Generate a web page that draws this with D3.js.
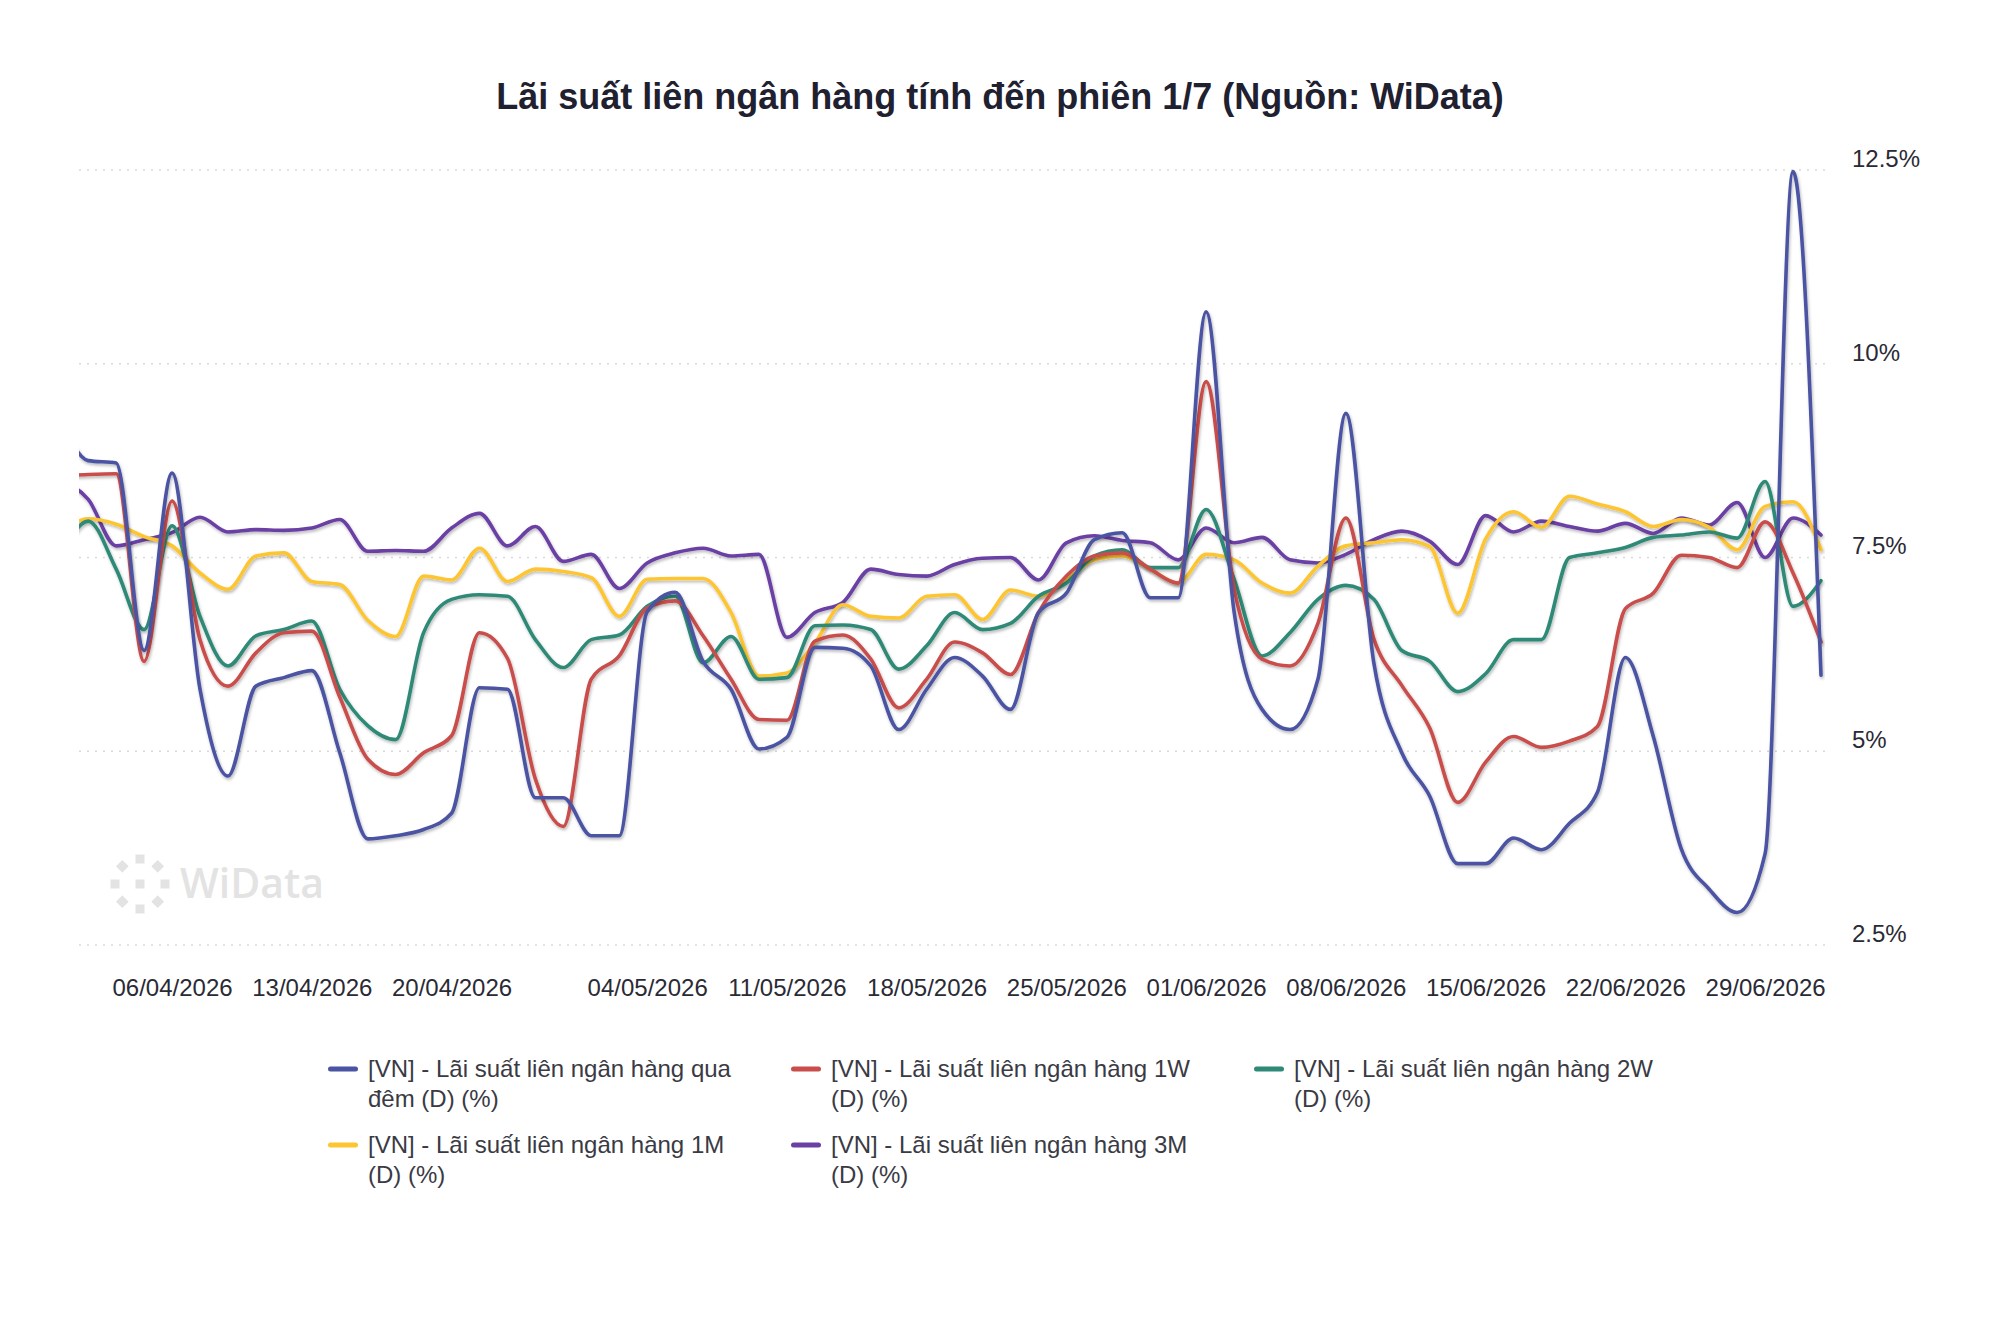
<!DOCTYPE html>
<html><head><meta charset="utf-8">
<script src="https://cdn.jsdelivr.net/npm/d3@7"></script>
<style>
html,body{margin:0;padding:0;background:#fff;}
svg{display:block;font-family:"Liberation Sans",Arial,Helvetica,sans-serif;}
</style></head><body>
<svg id="chart" width="2000" height="1322"></svg>
<script>
// ---------- DATA ----------
const dates = ["31/03/2026","01/04/2026","02/04/2026","03/04/2026","06/04/2026","07/04/2026","08/04/2026","09/04/2026","10/04/2026",
"13/04/2026","14/04/2026","15/04/2026","16/04/2026","17/04/2026","20/04/2026","21/04/2026","22/04/2026","23/04/2026","24/04/2026",
"28/04/2026","29/04/2026","04/05/2026","05/05/2026","06/05/2026","07/05/2026","08/05/2026","11/05/2026","12/05/2026","13/05/2026",
"14/05/2026","15/05/2026","18/05/2026","19/05/2026","20/05/2026","21/05/2026","22/05/2026","25/05/2026","26/05/2026","27/05/2026",
"28/05/2026","29/05/2026","01/06/2026","02/06/2026","03/06/2026","04/06/2026","05/06/2026","08/06/2026","09/06/2026","10/06/2026",
"11/06/2026","12/06/2026","15/06/2026","16/06/2026","17/06/2026","18/06/2026","19/06/2026","22/06/2026","23/06/2026","24/06/2026",
"25/06/2026","26/06/2026","29/06/2026","30/06/2026","01/07/2026"];

const tickLabels = ["06/04/2026","13/04/2026","20/04/2026","04/05/2026","11/05/2026","18/05/2026","25/05/2026",
"01/06/2026","08/06/2026","15/06/2026","22/06/2026","29/06/2026"];

const overnight = [9.3,8.75,8.72,6.3,8.59,5.8,4.68,5.84,5.95,6.04,4.98,3.87,3.91,3.99,4.2,5.82,5.80,4.40,4.40,3.91,3.91,6.8,7.05,6.16,5.80,5.03,5.18,6.34,6.33,6.10,5.28,5.80,6.21,5.97,5.54,6.79,7.04,7.73,7.82,6.98,6.98,10.67,6.8,5.54,5.28,5.93,9.36,6.14,4.98,4.42,3.55,3.55,3.88,3.73,4.07,4.47,6.21,5.19,3.74,3.22,2.92,3.68,12.48,5.98];
const week1 = [8.55,8.57,8.58,6.16,8.23,6.44,5.84,6.27,6.53,6.55,5.7,4.90,4.70,4.98,5.2,6.53,6.2,4.64,4.03,5.93,6.23,6.85,6.94,6.49,5.93,5.41,5.40,6.42,6.50,6.19,5.56,5.93,6.41,6.27,5.99,6.79,7.26,7.52,7.56,7.35,7.17,9.77,7.1,6.19,6.10,6.65,8.01,6.45,5.85,5.3,4.34,4.86,5.19,5.05,5.13,5.32,6.84,7.04,7.53,7.50,7.37,7.96,7.30,6.41];
const week2 = [7.5,7.97,7.35,6.57,7.91,6.74,6.10,6.49,6.57,6.68,5.80,5.33,5.15,6.53,6.96,7.02,7.0,6.44,6.08,6.44,6.50,6.87,7.0,6.14,6.48,5.93,5.95,6.62,6.63,6.57,6.06,6.36,6.79,6.57,6.65,7.0,7.17,7.52,7.60,7.37,7.37,8.12,7.22,6.23,6.53,6.96,7.14,6.96,6.3,6.16,5.77,6.0,6.44,6.44,7.50,7.56,7.63,7.76,7.79,7.83,7.75,8.48,6.87,7.20];
const month1 = [7.8,8.0,7.93,7.77,7.65,7.30,7.09,7.52,7.56,7.19,7.15,6.69,6.48,7.26,7.21,7.62,7.19,7.35,7.32,7.24,6.74,7.22,7.23,7.23,6.79,5.97,6.01,6.40,6.89,6.74,6.72,7.0,7.02,6.70,7.08,7.0,7.21,7.47,7.52,7.35,7.17,7.54,7.47,7.17,7.04,7.39,7.65,7.69,7.73,7.64,6.78,7.74,8.09,7.89,8.29,8.19,8.09,7.90,7.99,7.89,7.60,8.16,8.22,7.60];
const month3 = [8.5,8.25,7.65,7.73,7.82,8.02,7.83,7.86,7.85,7.88,7.99,7.58,7.59,7.58,7.88,8.07,7.65,7.90,7.45,7.54,7.10,7.43,7.56,7.62,7.52,7.54,6.47,6.79,6.92,7.35,7.28,7.26,7.41,7.49,7.50,7.21,7.69,7.78,7.72,7.69,7.47,7.88,7.69,7.76,7.47,7.43,7.54,7.73,7.84,7.71,7.41,8.04,7.83,7.97,7.90,7.84,7.94,7.81,8.01,7.92,8.21,7.50,8.01,7.79];

const seriesNames = [
  "[VN] - Lãi suất liên ngân hàng qua đêm (D) (%)",
  "[VN] - Lãi suất liên ngân hàng 1W (D) (%)",
  "[VN] - Lãi suất liên ngân hàng 2W (D) (%)",
  "[VN] - Lãi suất liên ngân hàng 1M (D) (%)",
  "[VN] - Lãi suất liên ngân hàng 3M (D) (%)"
];
const seriesColors = ["#4b53a3","#c94d4b","#2e8a77","#fdc531","#6a40a4"];
const yTicks = [2.5, 5, 7.5, 10, 12.5];
const titleText = "Lãi suất liên ngân hàng tính đến phiên 1/7 (Nguồn: WiData)";
const viewStart = 0.67; // visible window starts part-way between first two sessions

// ---------- CHART ----------
const svg = d3.select("#chart");
const plot = {left:79, right:1821, top:170, bottom:945};

const x = d3.scaleLinear().domain([viewStart, dates.length-1]).range([plot.left, plot.right]);
const y = d3.scaleLinear().domain([2.5, 12.5]).range([plot.bottom, plot.top]);

const defs = svg.append("defs");
const f = defs.append("filter").attr("id","shadow").attr("x","-5%").attr("y","-10%").attr("width","110%").attr("height","120%");
f.append("feDropShadow").attr("dx",1).attr("dy",2).attr("stdDeviation",1.8).attr("flood-color","#000").attr("flood-opacity",0.28);
defs.append("clipPath").attr("id","clip").append("rect")
  .attr("x",plot.left).attr("y",0).attr("width",plot.right-plot.left+4).attr("height",1000);

// title
svg.append("text").attr("x",1000).attr("y",96).attr("dy","0.35em")
  .attr("text-anchor","middle").attr("font-size",36).attr("font-weight","bold")
  .attr("fill","#1f2030").text(titleText);

// grid
svg.append("g").selectAll("line").data(yTicks).join("line")
  .attr("x1",plot.left).attr("x2",plot.right+4)
  .attr("y1",d=>y(d)).attr("y2",d=>y(d))
  .attr("stroke","#d9d9d9").attr("stroke-width",1.5).attr("stroke-dasharray","2,6");

// y axis (right)
const yAxis = svg.append("g").attr("transform",`translate(1852,0)`)
  .call(d3.axisRight(y).tickValues(yTicks).tickSize(0).tickPadding(0).tickFormat(d=>d+"%"));
yAxis.select(".domain").remove();
yAxis.selectAll(".tick text").attr("x",0).attr("y",-12).attr("dy","0.35em")
  .attr("font-size",24).attr("fill","#2a2a35").attr("font-family","Liberation Sans, Arial, sans-serif");

// x axis
const tickIdx = tickLabels.map(t=>dates.indexOf(t));
const xAxis = svg.append("g").attr("transform",`translate(0,988)`)
  .call(d3.axisBottom(x).tickValues(tickIdx).tickSize(0).tickPadding(0).tickFormat(i=>dates[i]));
xAxis.select(".domain").remove();
xAxis.selectAll(".tick text").attr("y",0).attr("dy","0.35em")
  .attr("font-size",24).attr("fill","#2a2a35").attr("font-family","Liberation Sans, Arial, sans-serif");

// watermark
const wm = svg.append("g").attr("transform","translate(140,884)").attr("fill","#e3e3e3");
d3.range(8).forEach(k=>{
  const a = k*Math.PI/4, r=25;
  const cx = r*Math.sin(a), cy = -r*Math.cos(a);
  wm.append("rect").attr("x",-4.5).attr("y",-4.5).attr("width",9).attr("height",9)
    .attr("transform",`translate(${cx},${cy}) rotate(${k%2?45:0})`);
});
wm.append("rect").attr("x",-4.5).attr("y",-4.5).attr("width",9).attr("height",9);
svg.append("text").attr("x",180).attr("y",898).attr("font-family","'Open Sans', sans-serif")
  .attr("font-weight",600).attr("font-size",41).attr("fill","#e3e3e3").text("WiData");

// lines
const series = [overnight, week1, week2, month1, month3];
const line = d3.line().x((d,i)=>x(i)).y(d=>y(d)).curve(d3.curveMonotoneX);
const lg = svg.append("g").attr("clip-path","url(#clip)");
[4,3,2,1,0].forEach(s=>{
  lg.append("path").datum(series[s]).attr("d",line)
    .attr("fill","none").attr("stroke",seriesColors[s]).attr("stroke-width",3.6)
    .attr("stroke-linejoin","round").attr("stroke-linecap","round")
    .attr("filter","url(#shadow)");
});

// legend
const colX = [328, 791, 1254];
const rowY = [1069, 1145];
const maxW = 376;
const legend = svg.append("g");
seriesNames.forEach((name,k)=>{
  const cx = colX[k%3], cy = rowY[Math.floor(k/3)];
  const g = legend.append("g");
  g.append("rect").attr("x",cx).attr("y",cy-2.5).attr("width",30).attr("height",5).attr("rx",2.5)
    .attr("fill",seriesColors[k]);
  const t = g.append("text").attr("x",cx+40).attr("y",cy).attr("font-size",24).attr("fill","#3a3a44");
  // word wrap
  const words = name.split(" ");
  let lines=[], cur="";
  const tmp = t.append("tspan");
  words.forEach(w=>{
    const test = cur ? cur+" "+w : w;
    tmp.text(test);
    if (tmp.node().getComputedTextLength() > maxW && cur) { lines.push(cur); cur = w; }
    else cur = test;
  });
  lines.push(cur);
  tmp.remove();
  lines.forEach((l,j)=>{
    t.append("tspan").attr("x",cx+40).attr("dy", j===0 ? "0.35em" : 29.5).text(l);
  });
});
</script></body></html>
